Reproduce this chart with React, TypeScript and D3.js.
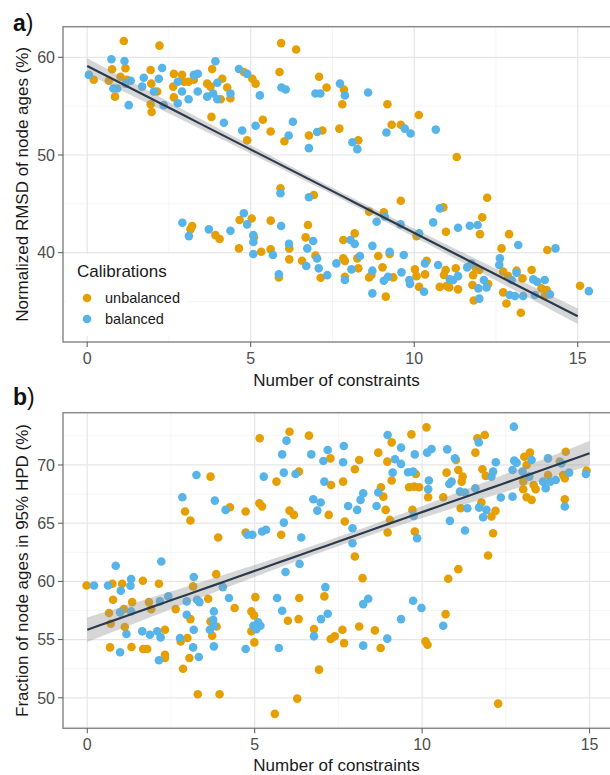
import * as d3 from "d3";

type Pt = [number, number];

// ---- data ------------------------------------------------------------
const groupNames = ["unbalanced", "balanced"];
const groupColors = ["#E69F00", "#56B4E9"];

const xTicks = [0, 5, 10, 15];
const xMinor = [2.5, 7.5, 12.5];

const rmsdYTicks = [40, 50, 60];
const rmsdYMinor = [35, 45, 55];
const hpdYTicks = [50, 55, 60, 65, 70];
const hpdYMinor = [47.5, 52.5, 57.5, 62.5, 67.5, 72.5];

// panel a: normalized RMSD of node ages
const rmsdUnbalanced: Pt[] = [
  [1.12, 61.67], [2.21, 61.19], [0.76, 58.77], [1.17, 58.87], [0.2, 57.7], [0.66, 57.6], [1.02, 58.0],
  [1.22, 57.7], [0.85, 55.97], [1.94, 58.7], [1.96, 57.3], [2.14, 56.5], [1.94, 55.2], [1.97, 54.4],
  [2.65, 58.3], [2.9, 58.2], [2.63, 57.0], [2.96, 57.5], [3.1, 57.5], [3.26, 57.7], [2.65, 55.9],
  [3.82, 58.8], [3.67, 57.3], [4.13, 57.8], [3.77, 57.0], [4.28, 56.9], [4.08, 55.7], [4.38, 55.8],
  [4.79, 58.5], [5.05, 57.8], [5.15, 57.3], [3.8, 53.9], [4.89, 51.5], [5.37, 53.6], [5.61, 52.4],
  [6.03, 51.4], [6.78, 52.0], [7.19, 52.5], [5.93, 61.45], [6.39, 60.8], [5.88, 58.5], [7.09, 58.0],
  [7.32, 56.9], [7.85, 56.7], [7.8, 55.2], [9.18, 55.2], [10.14, 54.1], [7.71, 52.7], [9.31, 53.1],
  [9.59, 53.1], [8.29, 51.5], [11.3, 49.8], [5.91, 46.6], [6.93, 45.9], [3.21, 42.73], [3.16, 42.39],
  [3.92, 41.8], [4.05, 41.4], [4.66, 43.35], [5.03, 43.5], [5.61, 43.28], [6.75, 42.83], [6.68, 41.57],
  [5.1, 41.57], [4.64, 40.44], [5.32, 40.1], [5.61, 40.34], [6.18, 40.44], [6.18, 39.32], [6.57, 39.18],
  [6.98, 39.7], [7.14, 37.44], [5.86, 37.47], [9.59, 45.32], [12.23, 45.63], [10.89, 44.64], [8.62, 44.2],
  [9.07, 44.13], [12.08, 43.62], [12.01, 41.9], [10.97, 42.15], [12.9, 41.9], [10.07, 41.7], [8.18, 41.98],
  [7.83, 41.3], [9.25, 39.86], [8.9, 39.66], [8.26, 39.42], [7.83, 39.42], [7.88, 39.15], [7.88, 37.54],
  [8.29, 38.4], [8.62, 37.47], [8.69, 37.71], [9.03, 38.5], [9.36, 37.47], [9.13, 35.5], [10.02, 38.29],
  [10.07, 37.6], [10.33, 37.78], [10.38, 39.18], [10.15, 36.5], [10.96, 38.23], [10.91, 37.71], [10.78, 36.5],
  [10.99, 36.6], [11.07, 36.45], [11.27, 38.4], [11.34, 36.25], [11.8, 37.7], [11.87, 38.5], [11.99, 38.23],
  [11.78, 36.7], [11.82, 35.1], [12.26, 36.8], [12.67, 40.44], [12.72, 38.06], [12.87, 37.6], [13.13, 38.16],
  [13.31, 37.37], [12.72, 35.94], [12.82, 34.8], [13.26, 33.86], [13.59, 38.23], [13.89, 36.35], [14.05, 36.18],
  [13.99, 35.56], [14.07, 40.27], [15.07, 36.62],
];

const rmsdBalanced: Pt[] = [
  [0.74, 59.8], [1.14, 59.62], [0.05, 58.2], [0.8, 56.8], [0.92, 56.8], [1.33, 57.6], [1.27, 55.1],
  [1.73, 57.9], [1.68, 57.0], [2.29, 58.9], [2.19, 57.8], [2.34, 55.1], [2.77, 57.5], [2.9, 56.5],
  [3.26, 58.2], [3.38, 58.3], [3.1, 55.7], [3.38, 56.5], [2.77, 55.3], [3.92, 59.6], [3.98, 57.4],
  [3.67, 55.97], [3.85, 56.3], [3.98, 55.7], [4.38, 56.3], [4.64, 58.8], [4.89, 58.3], [5.28, 56.1],
  [4.18, 53.3], [4.74, 52.5], [5.15, 53.0], [6.29, 53.4], [6.16, 52.0], [6.78, 50.7], [7.03, 52.35],
  [5.94, 56.9], [6.07, 56.7], [6.98, 56.3], [7.13, 56.3], [1.17, 57.3], [2.04, 56.5], [7.73, 57.3],
  [7.88, 56.1], [8.59, 56.4], [9.15, 52.3], [9.71, 52.7], [9.89, 52.2], [10.66, 52.6], [8.11, 51.3],
  [8.26, 50.6], [5.91, 46.08], [6.78, 45.67], [2.91, 43.07], [3.11, 41.7], [3.72, 42.39], [4.38, 42.25],
  [4.79, 44.03], [4.89, 42.9], [5.93, 42.73], [6.91, 41.2], [5.08, 41.8], [5.08, 41.1], [5.08, 39.86],
  [5.68, 39.76], [6.17, 40.9], [6.73, 40.44], [7.03, 39.4], [6.7, 38.64], [7.08, 38.4], [7.34, 37.7],
  [5.86, 37.8], [10.78, 44.54], [9.1, 43.7], [8.85, 43.17], [10.58, 43.1], [11.34, 42.56], [11.7, 42.76],
  [11.94, 42.83], [10.15, 41.98], [9.58, 42.9], [8.05, 41.3], [8.18, 40.9], [8.72, 40.7], [9.25, 40.1],
  [9.68, 39.76], [8.34, 39.66], [7.62, 38.91], [7.88, 37.2], [8.08, 38.29], [8.72, 38.16], [9.07, 37.13],
  [9.2, 37.54], [8.72, 35.84], [9.61, 37.99], [9.85, 37.2], [9.87, 36.8], [10.33, 38.91], [10.3, 36.0],
  [10.73, 38.74], [11.09, 37.27], [11.19, 37.2], [11.34, 37.6], [11.62, 38.5], [11.75, 38.9], [11.96, 36.35],
  [11.99, 35.3], [12.13, 37.2], [12.21, 36.45], [12.62, 39.42], [12.6, 38.74], [13.18, 40.78], [12.98, 37.2],
  [13.13, 37.95], [12.92, 35.67], [13.08, 35.56], [13.33, 35.56], [13.64, 37.27], [13.76, 37.03], [13.99, 37.2],
  [14.15, 35.73], [13.69, 35.67], [14.32, 40.44], [15.34, 36.07],
];

// panel b: fraction of node ages in 95% HPD
const hpdUnbalanced: Pt[] = [
  [5.15, 72.29], [6.04, 72.86], [6.62, 72.52], [7.26, 70.57], [6.32, 69.43], [5.65, 68.57], [7.28, 68.28],
  [3.68, 69.0], [4.26, 66.37], [4.73, 66.0], [5.14, 66.71], [5.22, 66.43], [2.92, 66.0], [3.08, 65.23],
  [6.04, 66.08], [6.17, 65.71], [7.21, 65.71], [4.73, 64.2], [5.79, 64.0], [3.91, 63.77], [8.12, 70.43],
  [7.99, 69.63], [7.64, 68.57], [9.68, 72.63], [10.13, 73.23], [9.09, 71.94], [8.69, 71.06], [8.96, 70.29],
  [9.81, 69.23], [11.01, 70.43], [11.08, 69.57], [11.21, 69.0], [11.18, 68.57], [10.73, 69.34], [11.59, 71.06],
  [11.65, 72.29], [11.87, 72.57], [11.8, 69.63], [11.9, 69.06], [9.09, 68.66], [9.61, 68.08], [9.76, 68.14],
  [9.91, 68.08], [8.77, 68.08], [8.84, 67.28], [8.91, 66.14], [9.04, 65.28], [9.71, 66.14], [10.18, 67.23],
  [10.63, 67.23], [11.15, 66.28], [11.77, 66.77], [12.07, 65.57], [12.19, 66.06], [12.12, 64.14], [11.97, 62.22],
  [11.08, 61.05], [13.05, 70.71], [13.22, 71.06], [13.12, 70.0], [13.02, 68.57], [13.02, 67.91], [13.33, 68.28],
  [13.39, 67.91], [13.12, 67.23], [13.27, 67.0], [13.76, 69.14], [14.11, 70.29], [14.29, 71.14], [14.21, 69.14],
  [14.26, 68.86], [14.26, 67.06], [14.91, 69.51], [7.69, 65.14], [7.99, 62.14], [8.97, 64.2], [9.78, 64.28],
  [-0.02, 59.65], [0.75, 59.8], [1.04, 59.8], [1.66, 60.05], [2.14, 59.8], [0.77, 58.42], [1.34, 58.22],
  [1.09, 57.62], [0.65, 57.28], [0.7, 56.36], [1.12, 56.08], [1.91, 57.62], [1.84, 58.22], [2.32, 55.85],
  [0.68, 54.33], [1.32, 54.36], [1.67, 54.19], [1.79, 54.19], [2.32, 53.7], [2.32, 53.42], [2.64, 57.62],
  [3.16, 59.57], [3.61, 58.51], [3.08, 56.76], [2.79, 54.85], [2.99, 55.14], [3.05, 53.42], [2.86, 52.5],
  [3.3, 50.3], [3.95, 50.3], [3.85, 60.62], [4.4, 57.71], [3.68, 56.56], [3.86, 56.13], [3.73, 55.33],
  [4.9, 57.42], [4.98, 57.08], [5.02, 58.65], [4.9, 55.71], [4.99, 54.76], [5.99, 56.62], [6.33, 58.57],
  [6.31, 56.76], [5.6, 48.62], [6.27, 49.93], [6.92, 52.42], [6.77, 55.9], [7.08, 58.71], [8.22, 60.28],
  [10.78, 60.22], [10.7, 57.19], [8.12, 56.13], [7.62, 55.85], [8.59, 55.79], [7.39, 55.28], [7.27, 55.05],
  [7.67, 54.7], [8.76, 54.28], [10.1, 54.85], [10.16, 54.56], [12.27, 49.5],
];

const hpdBalanced: Pt[] = [
  [5.95, 72.09], [5.82, 70.91], [6.69, 70.91], [7.18, 71.29], [7.05, 70.34], [5.87, 69.34], [6.22, 69.23],
  [7.08, 68.57], [5.27, 69.0], [3.26, 69.14], [2.84, 67.23], [3.81, 66.94], [4.13, 66.14], [6.75, 67.06],
  [6.97, 66.77], [6.87, 66.08], [5.87, 65.05], [4.78, 64.0], [4.93, 64.0], [5.22, 64.28], [5.34, 64.43],
  [6.39, 63.77], [0.85, 61.34], [2.21, 61.71], [6.34, 61.49], [5.92, 60.8], [7.66, 71.63], [7.64, 70.23],
  [8.97, 72.57], [9.37, 71.49], [9.19, 70.49], [9.37, 70.09], [9.12, 69.34], [9.58, 69.37], [9.73, 69.43],
  [9.78, 70.91], [10.15, 71.06], [10.28, 71.37], [10.75, 71.34], [10.98, 70.57], [10.88, 68.57], [10.81, 68.37],
  [11.69, 71.94], [12.74, 73.29], [12.12, 69.43], [12.2, 70.23], [12.07, 69.0], [10.2, 68.66], [10.18, 67.91],
  [8.69, 67.63], [8.24, 67.57], [8.16, 67.0], [7.79, 66.48], [8.06, 66.14], [8.64, 66.48], [9.75, 65.63],
  [11.13, 67.71], [11.28, 67.63], [11.35, 66.28], [11.59, 68.0], [11.7, 66.34], [11.92, 66.14], [11.82, 65.51],
  [10.83, 65.2], [11.28, 64.37], [12.35, 67.2], [12.7, 67.28], [12.75, 70.37], [12.82, 70.2], [12.7, 69.57],
  [13.27, 70.43], [13.0, 69.43], [13.2, 69.0], [13.61, 68.57], [13.69, 68.0], [13.83, 68.57], [13.99, 68.71],
  [13.76, 70.57], [14.16, 70.14], [14.39, 69.34], [14.26, 66.43], [14.89, 69.23], [7.92, 64.57], [7.92, 63.28],
  [9.85, 63.71], [0.2, 59.65], [0.62, 59.65], [1.0, 59.2], [1.31, 60.2], [1.29, 59.62], [0.98, 57.34],
  [1.31, 57.42], [1.17, 55.48], [2.17, 58.28], [2.42, 58.71], [1.64, 55.71], [1.87, 55.42], [2.09, 55.71],
  [2.19, 55.19], [0.98, 53.91], [2.14, 53.22], [2.97, 58.28], [3.18, 60.37], [3.28, 58.42], [3.35, 58.22],
  [2.97, 57.14], [3.18, 55.85], [2.77, 55.14], [3.16, 54.33], [3.33, 53.5], [4.05, 59.51], [4.23, 58.57],
  [3.78, 57.42], [3.76, 56.7], [3.78, 56.19], [3.66, 55.85], [3.78, 54.42], [4.96, 56.19], [5.1, 56.48],
  [5.17, 56.19], [5.05, 55.9], [4.73, 54.19], [5.67, 58.57], [5.82, 57.48], [5.72, 54.28], [6.77, 55.28],
  [6.98, 56.76], [7.11, 59.51], [7.18, 57.22], [8.39, 58.51], [8.24, 58.05], [9.73, 58.34], [9.98, 57.71],
  [10.63, 56.19], [9.37, 56.76], [8.24, 54.48], [8.96, 55.08],
];

// linear fits: start/end x, start/end y, band half width at centre and at ends
const rmsdFit = { x: [0, 15], y: [59.1, 33.5], seMid: 0.35, seEnd: 0.8 };
const hpdFit = { x: [0, 15], y: [55.85, 71.0], seMid: 0.4, seEnd: 1.05 };

// ---- drawing ---------------------------------------------------------
const W = 610,
  H = 775;
const FONT = "'Liberation Sans', Arial, Helvetica, sans-serif";

interface Fit {
  x: number[];
  y: number[];
  seMid: number;
  seEnd: number;
}

function Panel(props: {
  tag: string;
  tagY: number;
  box: { left: number; right: number; top: number; bottom: number };
  xDomain: [number, number];
  yDomain: [number, number];
  yTicks: number[];
  yMinor: number[];
  yTitle: string;
  xTitleY: number;
  series: Pt[][];
  fit: Fit;
  legend?: boolean;
}) {
  const { box, fit } = props;
  const x = d3.scaleLinear().domain(props.xDomain).range([box.left, box.right]);
  const y = d3.scaleLinear().domain(props.yDomain).range([box.bottom, box.top]);

  // regression line + confidence band
  const xm = (fit.x[0] + fit.x[1]) / 2;
  const half = (fit.x[1] - fit.x[0]) / 2;
  const slope = (fit.y[1] - fit.y[0]) / (fit.x[1] - fit.x[0]);
  const d2 = (fit.seEnd * fit.seEnd - fit.seMid * fit.seMid) / (half * half);
  const hw = (v: number) => Math.sqrt(fit.seMid * fit.seMid + d2 * (v - xm) * (v - xm));
  const yhat = (v: number) => fit.y[0] + slope * (v - fit.x[0]);
  const xs = d3.range(0, 41).map((i) => fit.x[0] + ((fit.x[1] - fit.x[0]) * i) / 40);
  const band = d3
    .area<number>()
    .x((v) => x(v))
    .y0((v) => y(yhat(v) - hw(v)))
    .y1((v) => y(yhat(v) + hw(v)));
  const line = d3
    .line<number>()
    .x((v) => x(v))
    .y((v) => y(yhat(v)));

  const clipId = "clip-" + props.tag;
  const cx = (box.left + Math.min(box.right, W)) / 2;
  const cy = (box.top + box.bottom) / 2;

  return (
    <g>
      <defs>
        <clipPath id={clipId}>
          <rect x={box.left} y={box.top} width={box.right - box.left} height={box.bottom - box.top} />
        </clipPath>
      </defs>
      <rect x={box.left} y={box.top} width={box.right - box.left} height={box.bottom - box.top} fill="#fff" />
      {/* grid */}
      <g clipPath={`url(#${clipId})`}>
        {xMinor.map((t) => (
          <line key={"xm" + t} x1={x(t)} x2={x(t)} y1={box.top} y2={box.bottom} stroke="#f2f2f2" strokeWidth={0.8} />
        ))}
        {props.yMinor.map((t) => (
          <line key={"ym" + t} x1={box.left} x2={box.right} y1={y(t)} y2={y(t)} stroke="#f2f2f2" strokeWidth={0.8} />
        ))}
        {xTicks.map((t) => (
          <line key={"xg" + t} x1={x(t)} x2={x(t)} y1={box.top} y2={box.bottom} stroke="#e6e6e6" strokeWidth={1.2} />
        ))}
        {props.yTicks.map((t) => (
          <line key={"yg" + t} x1={box.left} x2={box.right} y1={y(t)} y2={y(t)} stroke="#e6e6e6" strokeWidth={1.2} />
        ))}
        {props.legend && (
          <rect x={box.left + 3} y={254} width={120} height={82} fill="#fff" />
        )}
        {/* points */}
        {props.series.map((pts, gi) =>
          pts.map((p, i) => (
            <circle key={gi + "-" + i} cx={x(p[0])} cy={y(p[1])} r={4.3} fill={groupColors[gi]} />
          ))
        )}
        <path d={band(xs) ?? ""} fill="#999999" fillOpacity={0.4} />
        <path d={line(xs) ?? ""} fill="none" stroke="#2b3b4e" strokeWidth={2.2} />
      </g>
      {/* border */}
      <rect
        x={box.left}
        y={box.top}
        width={box.right - box.left}
        height={box.bottom - box.top}
        fill="none"
        stroke="#8a8a8a"
        strokeWidth={1.5}
      />
      {/* axes ticks */}
      {xTicks.map((t) => (
        <g key={"xt" + t}>
          <line x1={x(t)} x2={x(t)} y1={box.bottom} y2={box.bottom + 5} stroke="#555" strokeWidth={1} />
          <text
            x={x(t)}
            y={box.bottom + 22}
            textAnchor="middle"
            fontFamily={FONT}
            fontSize={16}
            fill="#4d4d4d"
          >
            {t}
          </text>
        </g>
      ))}
      {props.yTicks.map((t) => (
        <g key={"yt" + t}>
          <line x1={box.left - 5} x2={box.left} y1={y(t)} y2={y(t)} stroke="#555" strokeWidth={1} />
          <text
            x={box.left - 8}
            y={y(t)}
            dy="0.36em"
            textAnchor="end"
            fontFamily={FONT}
            fontSize={16}
            fill="#4d4d4d"
          >
            {t}
          </text>
        </g>
      ))}
      {/* titles */}
      <text x={cx} y={props.xTitleY} textAnchor="middle" fontFamily={FONT} fontSize={17} fill="#1a1a1a">
        Number of constraints
      </text>
      <text
        transform={`translate(28,${cy}) rotate(-90)`}
        textAnchor="middle"
        fontFamily={FONT}
        fontSize={17}
        fill="#1a1a1a"
      >
        {props.yTitle}
      </text>
      <text x={13} y={props.tagY} fontFamily={FONT} fontSize={23} fill="#111">
        <tspan fontWeight="bold">{props.tag}</tspan>
        <tspan>)</tspan>
      </text>
      {props.legend && (
        <g fontFamily={FONT}>
          <text x={77} y={277} fontSize={17} fill="#1a1a1a">
            Calibrations
          </text>
          {groupNames.map((g, i) => (
            <g key={g}>
              <circle cx={87} cy={298 + i * 21} r={4.3} fill={groupColors[i]} />
              <text x={105} y={298 + i * 21} dy="0.36em" fontSize={14.5} fill="#1a1a1a">
                {g}
              </text>
            </g>
          ))}
        </g>
      )}
    </g>
  );
}

export default function App() {
  return (
    <svg
      width={W}
      height={H}
      viewBox={`0 0 ${W} ${H}`}
      style={{ position: "absolute", left: 0, top: 0, background: "#fff" }}
    >
      <Panel
        tag="a"
        tagY={31}
        box={{ left: 63, right: 616, top: 26.7, bottom: 342 }}
        xDomain={[-0.74, 16.17]}
        yDomain={[30.86, 63.13]}
        yTicks={rmsdYTicks}
        yMinor={rmsdYMinor}
        yTitle="Normalized RMSD of node ages (%)"
        xTitleY={386}
        series={[rmsdUnbalanced, rmsdBalanced]}
        fit={rmsdFit}
        legend
      />
      <Panel
        tag="b"
        tagY={405}
        box={{ left: 63, right: 613, top: 412.7, bottom: 728.3 }}
        xDomain={[-0.725, 15.7]}
        yDomain={[47.38, 74.49]}
        yTicks={hpdYTicks}
        yMinor={hpdYMinor}
        yTitle="Fraction of node ages in 95% HPD (%)"
        xTitleY={771}
        series={[hpdUnbalanced, hpdBalanced]}
        fit={hpdFit}
      />
    </svg>
  );
}
